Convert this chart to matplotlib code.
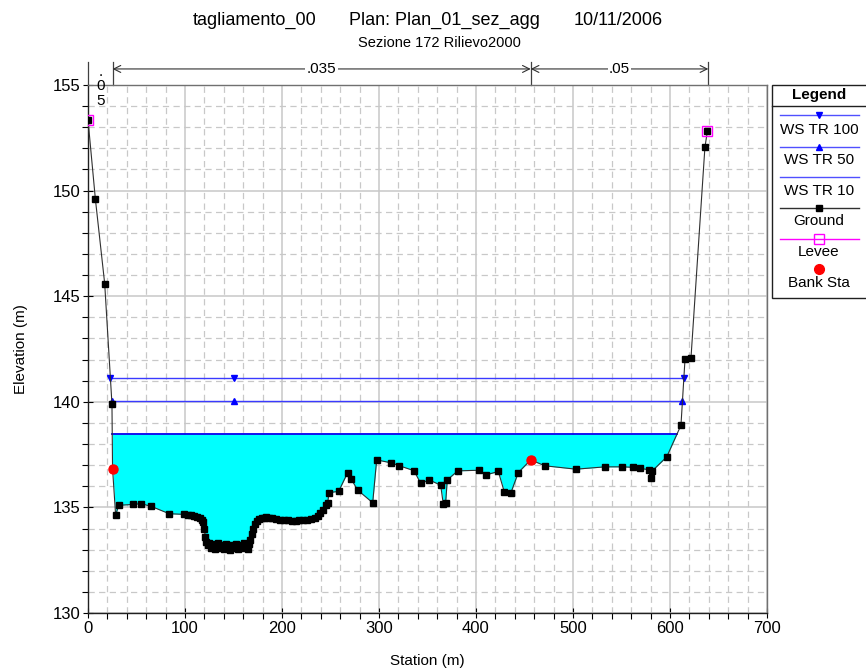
import numpy as np
import matplotlib
matplotlib.use("Agg")
import matplotlib.pyplot as plt
from matplotlib.lines import Line2D
from matplotlib.patches import Rectangle

plt.rcParams['font.family'] = ['Liberation Sans', 'DejaVu Sans']

# ---------------- data ----------------
title_parts = ["tagliamento_00", "Plan: Plan_01_sez_agg", "10/11/2006"]
subtitle = "Sezione 172 Rilievo2000"

ground_sta = [0, 7.6, 17.2, 24.7, 25.3, 28.5, 31.6, 46.7, 54.6, 65, 83.8, 99.3,
              103, 106, 109, 112, 115, 117.2, 119, 120, 121, 122, 123.5, 125,
              126.5, 128.5, 130.5, 132.5, 134.5, 136.5, 138.5, 140.5, 142.5,
              144.5, 146.5, 148.5, 150.5, 152.5, 154.5, 156.5, 158.5, 160.5,
              162.5, 164.5, 166, 167.5, 169, 170.5, 172, 174, 176.5, 179, 181,
              184, 187, 190, 194, 198, 202, 206, 210, 214, 218, 222, 226, 230,
              234, 237, 239.5, 242.5, 245, 247, 248.5, 258.4, 267.7, 271.1, 278,
              293.5, 297.6, 312.4, 321, 336, 343, 351.9, 363.6, 366.3, 368.7,
              370.4, 381.1, 403.4, 410.3, 423, 429.2, 435.8, 443.6, 456.4, 471,
              503, 533, 550.9, 561.5, 569, 578.5, 580, 581.5, 596.6, 611.3,
              615.5, 621.6, 636, 638.5]
ground_elev = [153.35, 149.6, 145.6, 139.9, 136.84, 134.63, 135.1, 135.14, 135.18,
               135.05, 134.7, 134.67, 134.65, 134.62, 134.6, 134.55, 134.5, 134.42,
               134.3, 134.0, 133.6, 133.35, 133.2, 133.3, 133.1, 133.25, 133.05,
               133.2, 133.3, 133.1, 133.2, 133.05, 133.25, 133.15, 133.0, 133.2,
               133.1, 133.25, 133.05, 133.2, 133.1, 133.3, 133.15, 133.05, 133.25,
               133.45, 133.75, 134.0, 134.2, 134.35, 134.45, 134.5, 134.5, 134.55,
               134.5, 134.48, 134.45, 134.42, 134.42, 134.38, 134.36, 134.36,
               134.38, 134.4, 134.42, 134.45, 134.5, 134.6, 134.75, 134.9, 135.1,
               135.2, 135.7, 135.76, 136.65, 136.36, 135.82, 135.22, 137.25,
               137.11, 136.97, 136.74, 136.14, 136.3, 136.05, 135.14, 135.22,
               136.3, 136.73, 136.76, 136.54, 136.7, 135.73, 135.67, 136.65,
               137.25, 136.97, 136.81, 136.92, 136.92, 136.9, 136.85, 136.78,
               136.38, 136.72, 137.39, 138.89, 142.03, 142.06, 152.05, 152.8]

levee_sta = [0, 638.5]
levee_elev = [153.35, 152.8]

bank_sta = [25.3, 456.4]

ws_names = ["WS TR 100", "WS TR 50", "WS TR 10"]
ws_elev = [141.12, 140.02, 138.47]
ws_mid_marker_sta = 150

n_bounds = [0, 25.3, 456.4, 639.5]
n_values = [".05", ".035", ".05"]

# ---------------- layout helpers ----------------
W, H = 866, 671
def fx(x):
    return x / W
def fy(y):
    return 1 - y / H

fig = plt.figure(figsize=(W / 100, H / 100), dpi=100)
ax = fig.add_axes([fx(88), fy(613), (767 - 88) / W, (613 - 85) / H])

gs = np.array(ground_sta, float)
ge = np.array(ground_elev, float)

def ws_ends(level):
    below = ge < level
    i = np.argmax(below)
    xl = np.interp(level, [ge[i], ge[i - 1]], [gs[i], gs[i - 1]])
    j = len(ge) - 1 - np.argmax(below[::-1])
    xr = np.interp(level, [ge[j], ge[j + 1]], [gs[j], gs[j + 1]])
    return xl, xr

# water fill for lowest profile
ax.fill_between(gs, ge, ws_elev[2], where=ge <= ws_elev[2], interpolate=True,
                color='#00ffff', lw=0, zorder=2)

ws_styles = [dict(marker='v', color='#3a3aff', lw=1.0),
             dict(marker='^', color='#3a3aff', lw=1.0),
             dict(marker=None, color='#0000ee', lw=1.3)]
for lvl, st in zip(ws_elev, ws_styles):
    xl, xr = ws_ends(lvl)
    ax.plot([xl, xr], [lvl, lvl], color=st['color'], lw=st['lw'], zorder=3)
    if st['marker']:
        ax.plot([xl, ws_mid_marker_sta, xr], [lvl] * 3, ls='none', marker=st['marker'],
                color='#0000ff', ms=5, zorder=4)

ax.plot(gs, ge, color='#303030', lw=0.8, marker='s', ms=4.5, mfc='black', mec='black',
        zorder=5)
ax.plot(levee_sta, levee_elev, ls='none', marker='s', ms=7.5, mfc='none', mec='#ff00ff',
        mew=1.0, zorder=6)
ax.plot(bank_sta, np.interp(bank_sta, gs, ge), ls='none', marker='o', ms=6.5,
        color='#ff0000', zorder=7)

ax.set_xlim(0, 700)
ax.set_ylim(130, 155)
ax.set_xticks(np.arange(0, 701, 100))
ax.set_xticks(np.arange(0, 701, 20), minor=True)
ax.set_yticks(np.arange(130, 156, 5))
ax.set_yticks(np.arange(130, 156, 1), minor=True)
ax.grid(which='major', color='#c8c8c8', lw=1.1, ls='-', zorder=0)
ax.grid(which='minor', color='#c8c8c8', lw=0.9, ls=(0, (5, 3.5)), zorder=0)
ax.set_axisbelow(True)
ax.tick_params(which='major', direction='inout', length=7, width=0.8,
               labelsize=12, pad=2)
ax.tick_params(which='minor', direction='out', length=4, width=0.8)
for s in ['left', 'bottom']:
    ax.spines[s].set_color('#202020')
    ax.spines[s].set_linewidth(1.0)
for s in ['top', 'right']:
    ax.spines[s].set_color('#707070')
    ax.spines[s].set_linewidth(1.0)

ax.set_xlabel("Station (m)", fontsize=11, labelpad=13)
ax.set_ylabel("Elevation (m)", fontsize=11, labelpad=18)

# ---------------- Manning n annotations ----------------
y_top_line = 156.1
y_arrow = 155.76
for b in n_bounds:
    ax.plot([b, b], [155, y_top_line], color='#404040', lw=0.9, clip_on=False)
for (a, b), lab in zip(zip(n_bounds[:-1], n_bounds[1:]), n_values):
    mid = (a + b) / 2
    if b - a > 60:
        ax.annotate("", xy=(a, y_arrow), xytext=(b, y_arrow),
                    arrowprops=dict(arrowstyle='<->,head_length=0.5,head_width=0.25',
                                    color='#303030', lw=0.8, shrinkA=0, shrinkB=0),
                    annotation_clip=False)
        ax.text(mid, y_arrow, lab, ha='center', va='center', fontsize=11,
                bbox=dict(facecolor='white', edgecolor='none', pad=1.0), clip_on=False)
    else:
        for k, ch in enumerate(lab):
            ax.text(mid, 155.62 - k * 0.68, ch, ha='center', va='center',
                    fontsize=11, clip_on=False)

# ---------------- titles ----------------
for txt, x in zip(title_parts, [255, 444, 618]):
    fig.text(fx(x), fy(25), txt, ha='center', va='baseline', fontsize=13)
fig.text(fx(439), fy(43), subtitle, ha='center', va='center', fontsize=10.5)

# ---------------- legend ----------------
fig.add_artist(Rectangle((fx(772), fy(298)), (870 - 772) / W, (298 - 85) / H,
                         transform=fig.transFigure, facecolor='white',
                         edgecolor='#202020', lw=1.0))
fig.add_artist(Line2D([fx(772), fx(870)], [fy(106), fy(106)], transform=fig.transFigure,
                      color='#202020', lw=1.0))
fig.text(fx(819), fy(95), "Legend", ha='center', va='center', fontsize=11,
         fontweight='bold')

leg_labels = ws_names + ["Ground", "Levee", "Bank Sta"]
leg_line_y = [115, 147, 177, 208, 239, 269]
leg_text_y = [129.5, 160, 191, 221, 252, 283]
leg_styles = [
    dict(color='#5050ff', marker='v', mfc='#0000ff', mec='#0000ff', ms=5, line=True),
    dict(color='#5050ff', marker='^', mfc='#0000ff', mec='#0000ff', ms=5, line=True),
    dict(color='#5050ff', marker=None, mfc=None, mec=None, ms=0, line=True),
    dict(color='#303030', marker='s', mfc='black', mec='black', ms=4.5, line=True),
    dict(color='#ff00ff', marker='s', mfc='none', mec='#ff00ff', ms=7.5, line=True),
    dict(color='#ff0000', marker='o', mfc='#ff0000', mec='#ff0000', ms=7, line=False),
]
for lab, ly, ty, st in zip(leg_labels, leg_line_y, leg_text_y, leg_styles):
    if st['line']:
        fig.add_artist(Line2D([fx(780), fx(859)], [fy(ly), fy(ly)],
                              transform=fig.transFigure, color=st['color'], lw=1.0))
    if st['marker']:
        fig.add_artist(Line2D([fx(819)], [fy(ly)], transform=fig.transFigure,
                              ls='none', marker=st['marker'], ms=st['ms'],
                              mfc=st['mfc'], mec=st['mec'], mew=1.0))
    fig.text(fx(819), fy(ty), lab, ha='center', va='center', fontsize=11)

fig.savefig("out.png", dpi=100)
